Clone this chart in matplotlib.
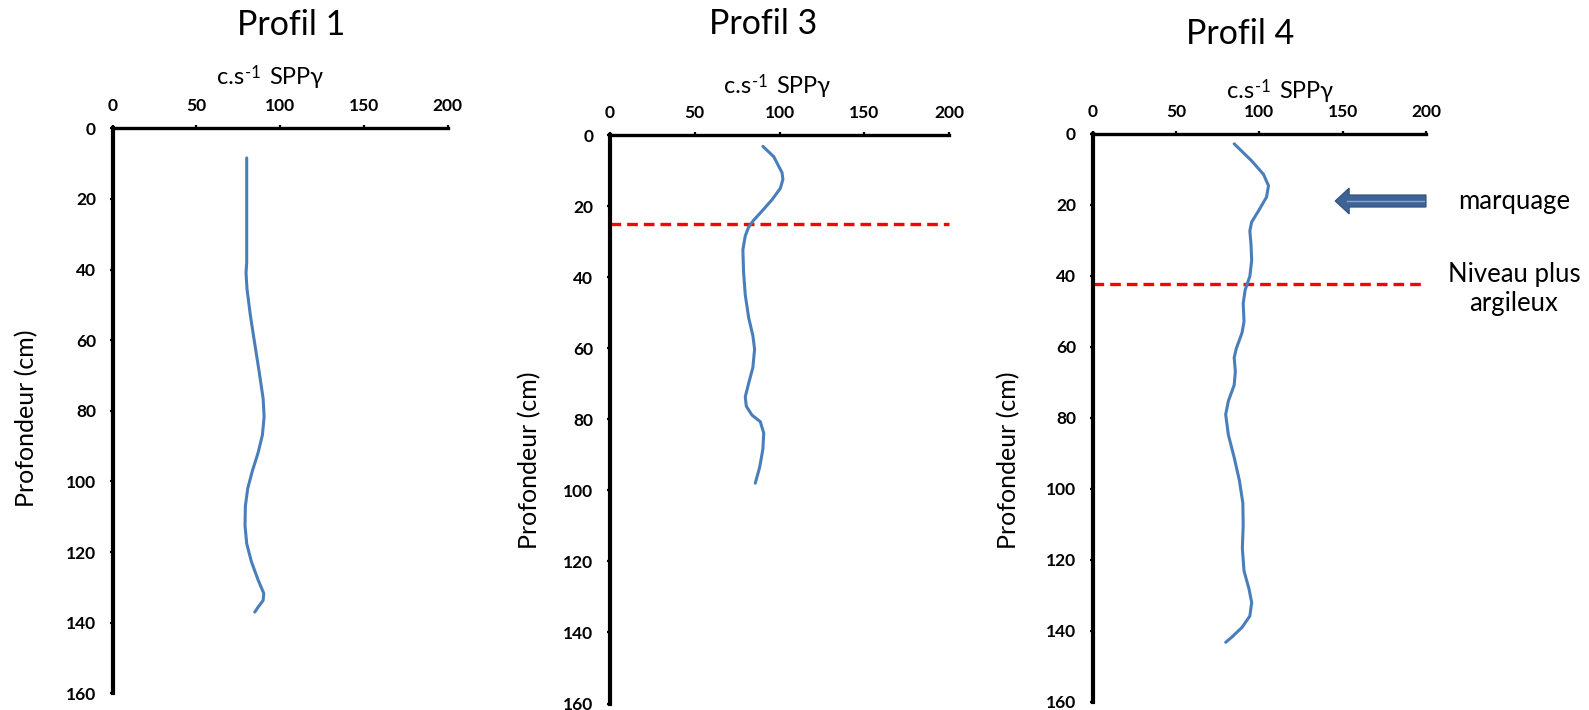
import matplotlib
matplotlib.use('Agg')
import matplotlib.pyplot as plt
from matplotlib.patches import FancyArrow

plt.rcParams['font.family'] = ['Lato', 'DejaVu Sans']

# ---------------- data ----------------
x_ticks = [0, 50, 100, 150, 200]
y_ticks = [0, 20, 40, 60, 80, 100, 120, 140, 160]
titles = ['Profil 1', 'Profil 3', 'Profil 4']
x_label_parts = ['c.s', '-1', 'SPPγ']
y_label = 'Profondeur (cm)'

p1_depth = [8.4, 20, 30, 38, 41, 45.6, 53, 61, 68.8, 76.5, 81.6, 86.8, 91.9, 97,
            102, 107, 112.5, 117.6, 122.7, 127.9, 131.7, 133.7, 135.6, 137]
p1_counts = [80, 80, 80, 80, 79.6, 80.2, 82.2, 84.8, 87.4, 89.8, 90.4, 89.4, 86.8, 83.4,
             80.6, 79.2, 79, 80, 82.8, 86.8, 90.2, 89.8, 86.8, 84.8]

p3_depth = [3.2, 6.1, 10.6, 12.5, 15, 18.2, 21.4, 24, 25.9, 28.4, 32.3, 38.6, 45, 51.4,
            56.5, 60.3, 65.4, 69.9, 73.7, 76.3, 78.8, 80.7, 83.9, 88.4, 93.5, 98]
p3_counts = [90.2, 96.6, 101.5, 102, 100.5, 95.6, 89.7, 84.7, 81.8, 79.8, 78.4, 78.8, 79.8, 81.8,
             84.3, 85.3, 84.3, 81.8, 79.8, 80.4, 83.7, 88.7, 90.7, 90.2, 88.3, 85.7]

p4_depth = [2.9, 7.7, 11.5, 14.7, 17.9, 21.7, 24.9, 27.4, 31.3, 35.7, 40.2, 44, 47.8, 52.9,
            56.1, 60.6, 63.1, 67, 70.8, 75.3, 79.1, 84.8, 91.2, 97.6, 104, 110.3, 116.7,
            123.1, 128.2, 132, 135.8, 139, 141.6, 143.2]
p4_counts = [84.9, 95.4, 102.5, 105.5, 104.3, 99.6, 95.4, 94.3, 95, 95.4, 94.3, 91.5, 90.3, 90.8,
             89.6, 86.1, 84.9, 85.6, 84.9, 81.4, 79.8, 81.4, 84.9, 88, 90.1, 90.3, 89.8,
             90.8, 93.8, 95.4, 94.3, 89.6, 83.8, 79.8]

p3_boundary = 25
p4_boundary = 42.3
marker_depth = 19
marker_from = 200
marker_to = 145.5
note_marker = 'marquage'
note_boundary = ['Niveau plus', 'argileux']

# ---------------- layout ----------------
W, H = 1589, 710
fig = plt.figure(figsize=(W / 100, H / 100), dpi=100)
fig.patch.set_facecolor('white')

def fx(px):
    return px / W

def fy(py):
    return 1 - py / H

axes_px = [(112.7, 447.7, 128.3, 693.3),
           (610.0, 949.0, 135.0, 703.5),
           (1092.7, 1426.0, 133.5, 702.0)]
title_px = [(291.0, 35.0), (763.0, 33.5), (1240.0, 43.5)]
xlab_px = [(216.7, 84.3), (723.6, 93.0), (1226.5, 98.0)]
ylab_px = [(26.7, 418.0), (530.0, 460.0), (1009.0, 460.0)]

series = [(p1_depth, p1_counts), (p3_depth, p3_counts), (p4_depth, p4_counts)]
boundaries = [None, p3_boundary, p4_boundary]

line_color = '#4A7EBB'
axes_list = []
label_pieces = []
for i in range(3):
    x0, x1, y0, y1 = axes_px[i]
    ax = fig.add_axes([fx(x0), fy(y1), (x1 - x0) / W, (y1 - y0) / H])
    ax.set_xlim(0, 200)
    ax.set_ylim(160, 0)
    ax.xaxis.tick_top()
    ax.set_xticks(x_ticks)
    ax.set_yticks(y_ticks)
    ax.set_xticklabels([str(v) for v in x_ticks], fontweight='bold', fontsize=12.5)
    ax.set_yticklabels([str(v) for v in y_ticks], fontweight='bold', fontsize=12.5)
    ax.spines['right'].set_visible(False)
    ax.spines['bottom'].set_visible(False)
    ax.spines['top'].set_linewidth(2.4)
    ax.spines['left'].set_linewidth(3.0)
    ax.tick_params(axis='x', direction='out', length=2.5, width=1.6, pad=7.5)
    ax.tick_params(axis='y', direction='out', length=2.5, width=1.6, pad=9.5)
    ax.patch.set_alpha(0)

    d, c = series[i]
    ax.plot(c, d, color=line_color, lw=2.2, solid_capstyle='round',
            solid_joinstyle='round', zorder=3)
    if boundaries[i] is not None:
        ax.axhline(boundaries[i], xmin=0, xmax=1, color='#FF0000', lw=2.4,
                   linestyle=(0, (3.2, 1.8)), zorder=2, clip_on=False)
    axes_list.append(ax)

    # title
    tx, ty = title_px[i]
    fig.text(fx(tx), fy(ty), titles[i], ha='center', va='baseline', fontsize=24.5)
    # top axis label pieces
    lx, ly = xlab_px[i]
    t1 = fig.text(fx(lx), fy(ly), x_label_parts[0], ha='left', va='baseline', fontsize=17)
    t2 = fig.text(fx(lx), fy(ly - 6.0), x_label_parts[1], ha='left', va='baseline',
                  fontsize=12)
    t3 = fig.text(fx(lx), fy(ly), x_label_parts[2], ha='left', va='baseline', fontsize=17)
    label_pieces.append((t1, t2, t3))
    # y label
    vx, vy = ylab_px[i]
    fig.text(fx(vx), fy(vy), y_label, ha='center', va='center', rotation=90, fontsize=18)

# chain the pieces of the top axis label
fig.canvas.draw()
renderer = fig.canvas.get_renderer()
for t1, t2, t3 in label_pieces:
    e1 = t1.get_window_extent(renderer)
    t2.set_x((e1.x1 + 1.0) / W)
    e2 = t2.get_window_extent(renderer)
    t3.set_x((e2.x1 + 9.0) / W)

# arrow in Profil 4
ax4 = axes_list[2]
arrow = FancyArrow(marker_from, marker_depth, marker_to - marker_from, 0,
                   width=3.4, head_width=7.3, head_length=8.4,
                   length_includes_head=True, facecolor='#3E6497',
                   edgecolor='#2E5079', lw=0.8, clip_on=False, zorder=4)
ax4.add_patch(arrow)
ax4.plot([marker_to + 7, marker_from - 1.5], [marker_depth, marker_depth],
         color='#8AA6CF', lw=1.0, zorder=5, clip_on=False)

fig.text(fx(1514), fy(209), note_marker, ha='center', va='baseline', fontsize=18.5)
fig.text(fx(1514), fy(282), note_boundary[0], ha='center', va='baseline', fontsize=18.5)
fig.text(fx(1514), fy(311), note_boundary[1], ha='center', va='baseline', fontsize=18.5)

fig.savefig('out.png', dpi=100, facecolor='white')
